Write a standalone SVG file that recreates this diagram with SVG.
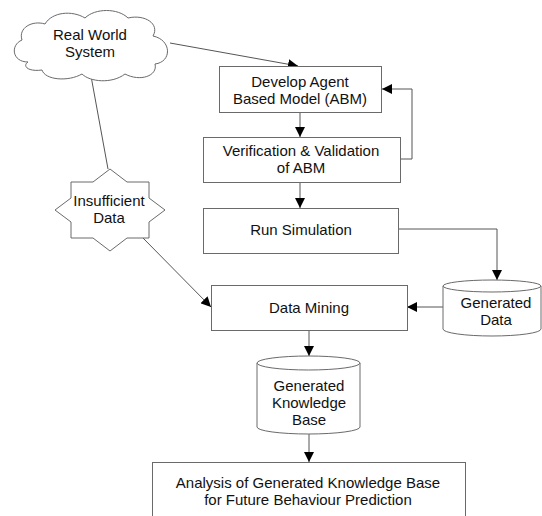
<svg xmlns="http://www.w3.org/2000/svg" width="542" height="516" viewBox="0 0 542 516">
<style>
.shape{fill:#fff;stroke:#6a6a6a;stroke-width:1}
.edge{fill:none;stroke:#555;stroke-width:1}
text{font-family:"Liberation Sans",Arial,sans-serif;font-size:15px;fill:#111;text-anchor:middle}
</style>
<defs>
<marker id="arr" markerUnits="userSpaceOnUse" markerWidth="12" markerHeight="10" refX="10" refY="5" orient="auto">
<path d="M0,0 L10,5 L0,10 Z" fill="#000"/>
</marker>
</defs>
<rect width="542" height="516" fill="#fff"/>
<g id="edges">
<path class="edge" d="M170,43 L298,66" marker-end="url(#arr)"/>
<path class="edge" d="M91,76 L108,169"/>
<path class="edge" d="M300,113 L300,137" marker-end="url(#arr)"/>
<path class="edge" d="M400,159 L412,159 L412,89 L382,89" marker-end="url(#arr)"/>
<path class="edge" d="M300,183 L300,208" marker-end="url(#arr)"/>
<path class="edge" d="M399,229 L497,229 L497,280" marker-end="url(#arr)"/>
<path class="edge" d="M443,307 L407,307" marker-end="url(#arr)"/>
<path class="edge" d="M143,238 L211,307" marker-end="url(#arr)"/>
<path class="edge" d="M309,330 L309,356" marker-end="url(#arr)"/>
<path class="edge" d="M309,434 L309,462" marker-end="url(#arr)"/>
</g>
<g id="real-world">
<path class="shape" d="M28,62 C12,62 10,45 22,40 C18,28 32,20 45,24 C52,12 72,10 85,18 C95,8 118,8 128,18 C145,14 160,24 153,36 C172,40 172,62 155,64 C158,76 140,82 125,74 C112,84 90,82 82,74 C68,82 45,80 42,70 C28,72 22,66 28,62 Z"/>
<text x="90" y="40">Real World</text>
<text x="90" y="57">System</text>
</g>
<g id="develop">
<rect class="shape" x="219.5" y="66.5" width="162" height="46"/>
<text x="300" y="87">Develop Agent</text>
<text x="300" y="104">Based Model (ABM)</text>
</g>
<g id="verification">
<rect class="shape" x="203.5" y="137.5" width="197" height="45"/>
<text x="301" y="156">Verification &amp; Validation</text>
<text x="301" y="173">of ABM</text>
</g>
<g id="run-simulation">
<rect class="shape" x="203.5" y="208.5" width="195" height="45"/>
<text x="301" y="235">Run Simulation</text>
</g>
<g id="insufficient-data">
<path class="shape" d="M110,169 L127,182 L149,182 L149,198 L165,210 L149,222 L149,238 L127,238 L110,251 L93,238 L71,238 L71,222 L55,210 L71,198 L71,182 L93,182 Z"/>
<text x="109" y="206">Insufficient</text>
<text x="109" y="223">Data</text>
</g>
<g id="generated-data">
<path class="shape" d="M443,286 A49,6 0 0 1 541,286 L541,329 A49,7 0 0 1 443,329 Z"/>
<path class="shape" d="M443,286 A49,6 0 0 0 541,286" fill="none"/>
<text x="496" y="308">Generated</text>
<text x="496" y="325">Data</text>
</g>
<g id="data-mining">
<rect class="shape" x="211.5" y="285.5" width="196" height="45"/>
<text x="309" y="313">Data Mining</text>
</g>
<g id="knowledge-base">
<path class="shape" d="M257,363 A51.5,7 0 0 1 360,363 L360,427 A51.5,7 0 0 1 257,427 Z"/>
<path class="shape" d="M257,363 A51.5,7 0 0 0 360,363" fill="none"/>
<text x="309" y="391">Generated</text>
<text x="309" y="408">Knowledge</text>
<text x="309" y="425">Base</text>
</g>
<g id="analysis">
<rect class="shape" x="152.5" y="462.5" width="313" height="60"/>
<text x="308" y="488">Analysis of Generated Knowledge Base</text>
<text x="308" y="505">for Future Behaviour Prediction</text>
</g>
</svg>
